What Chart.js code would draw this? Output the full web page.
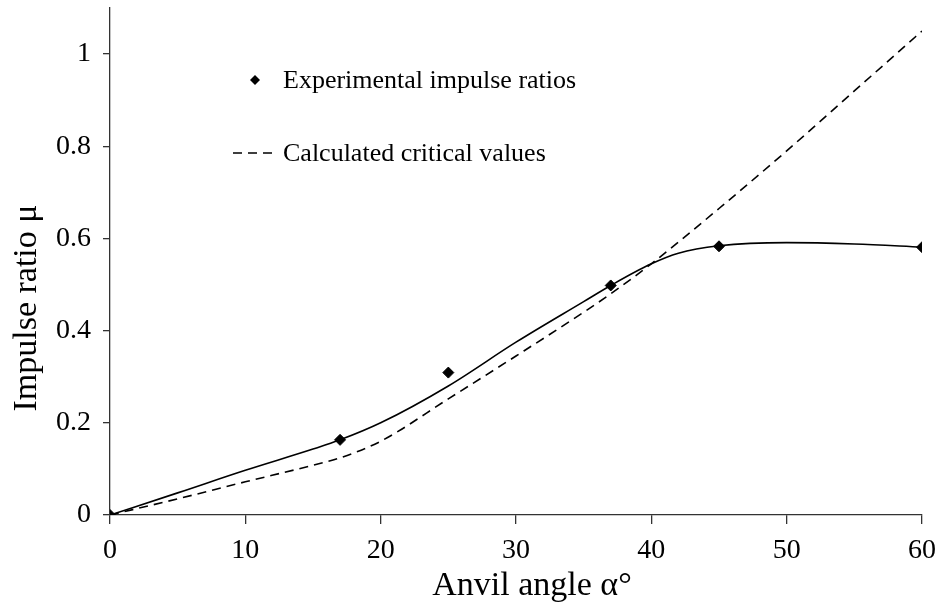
<!DOCTYPE html>
<html>
<head>
<meta charset="utf-8">
<script src="https://cdn.jsdelivr.net/npm/chart.js@4"></script>
<style>
  html, body { margin: 0; padding: 0; background: #fff; }
  #wrap { width: 936px; height: 608px; }
</style>
</head>
<body>
<div id="wrap"><canvas id="grafico"></canvas></div>
<script>
// datos
const expAngles = [0, 17, 25, 37, 45, 60];
const expRatios = [0, 0.163, 0.309, 0.498, 0.583, 0.581];

const fitAngles = [0, 5, 10, 15, 17, 20, 25, 30, 35, 37, 40, 42, 45, 50, 55, 60];
const fitRatios = [0, 0.048, 0.097, 0.143, 0.163, 0.2, 0.28, 0.375, 0.463, 0.498, 0.545, 0.568, 0.584, 0.591, 0.588, 0.581];

const calcAngles = [0, 5, 10, 15, 17, 20, 25, 30, 35, 37, 40, 45, 50, 55, 60];
const calcRatios = [0, 0.035, 0.072, 0.108, 0.124, 0.16, 0.252, 0.345, 0.44, 0.48, 0.545, 0.665, 0.79, 0.92, 1.05];

const yTicks = [0, 0.2, 0.4, 0.6, 0.8, 1];
const xTicks = [0, 10, 20, 30, 40, 50, 60];

const legendLabels = ['Experimental impulse ratios', 'Calculated critical values'];
const xTitle = 'Anvil angle α°';
const yTitle = 'Impulse ratio μ';

const fuente = "'Liberation Serif', 'Times New Roman', serif";
const tam = 26;
const tamTicks = 28;
const tamTitulo = 34;
const pares = (xs, ys) => xs.map((x, i) => ({ x: x, y: ys[i] }));

// leyenda y titulos de ejes
const leyenda = {
    id: 'leyenda',
    afterDraw(chart) {
        const ctx = chart.ctx;
        ctx.save();
        ctx.fillStyle = '#000';
        ctx.strokeStyle = '#000';
        // rombo
        const r = 5;
        ctx.beginPath();
        ctx.moveTo(255, 80 - r);
        ctx.lineTo(255 + r, 80);
        ctx.lineTo(255, 80 + r);
        ctx.lineTo(255 - r, 80);
        ctx.closePath();
        ctx.fill();
        // linea discontinua
        ctx.lineWidth = 1.6;
        ctx.setLineDash([9, 6]);
        ctx.beginPath();
        ctx.moveTo(233, 153);
        ctx.lineTo(277, 153);
        ctx.stroke();
        ctx.setLineDash([]);
        ctx.font = tam + 'px ' + fuente;
        ctx.textBaseline = 'middle';
        ctx.fillText(legendLabels[0], 283, 81);
        ctx.fillText(legendLabels[1], 283, 154);
        // titulos
        ctx.font = tamTitulo + 'px ' + fuente;
        ctx.textAlign = 'center';
        ctx.fillText(xTitle, 532, 586);
        ctx.translate(27, 308);
        ctx.rotate(-Math.PI / 2);
        ctx.fillText(yTitle, 0, 0);
        ctx.restore();
    }
};

new Chart(document.getElementById('grafico').getContext('2d'), {
    type: 'scatter',
    data: {
        datasets: [
            {
                label: legendLabels[0],
                data: pares(expAngles, expRatios),
                pointStyle: 'rectRot',
                pointRadius: 5.5,
                backgroundColor: '#000',
                borderColor: '#000',
                showLine: false,
                order: 0
            },
            {
                label: 'fit',
                data: pares(fitAngles, fitRatios),
                showLine: true,
                pointRadius: 0,
                borderColor: '#000',
                borderWidth: 1.6,
                cubicInterpolationMode: 'monotone',
                order: 1
            },
            {
                label: legendLabels[1],
                data: pares(calcAngles, calcRatios),
                showLine: true,
                pointRadius: 0,
                borderColor: '#000',
                borderWidth: 1.6,
                borderDash: [9, 6],
                cubicInterpolationMode: 'monotone',
                order: 2
            }
        ]
    },
    options: {
        responsive: true,
        maintainAspectRatio: false,
        animation: false,
        layout: { padding: { top: 8, right: 14, left: 0, bottom: 0 } },
        plugins: {
            legend: { display: false },
            tooltip: { enabled: false }
        },
        scales: {
            x: {
                type: 'linear',
                min: 0,
                max: 60,
                afterBuildTicks: (axis) => { axis.ticks = xTicks.map(v => ({ value: v })) },
                afterFit: (scale) => {
                    scale.height = 93
                    scale.paddingLeft = 0
                    scale.paddingRight = 0
                },
                grid: { drawOnChartArea: false, drawTicks: true, tickLength: 9, color: '#333', lineWidth: 1.3 },
                border: { display: true, color: '#333', width: 1.3 },
                ticks: { color: '#000', font: { family: fuente, size: tamTicks }, padding: 10 },
                title: { display: false }
            },
            y: {
                type: 'linear',
                min: 0,
                max: 1.1,
                afterBuildTicks: (axis) => { axis.ticks = yTicks.map(v => ({ value: v })) },
                afterFit: (scale) => {
                    scale.width = 110
                    scale.paddingTop = 0
                    scale.paddingBottom = 0
                },
                grid: { drawOnChartArea: false, drawTicks: true, tickLength: 7, color: '#333', lineWidth: 1.3 },
                border: { display: true, color: '#333', width: 1.3 },
                ticks: {
                    color: '#000',
                    font: { family: fuente, size: tamTicks },
                    padding: 12,
                    callback: (v) => String(Number(v.toFixed(1)))
                },
                title: { display: false }
            }
        }
    },
    plugins: [leyenda]
});
</script>
</body>
</html>
